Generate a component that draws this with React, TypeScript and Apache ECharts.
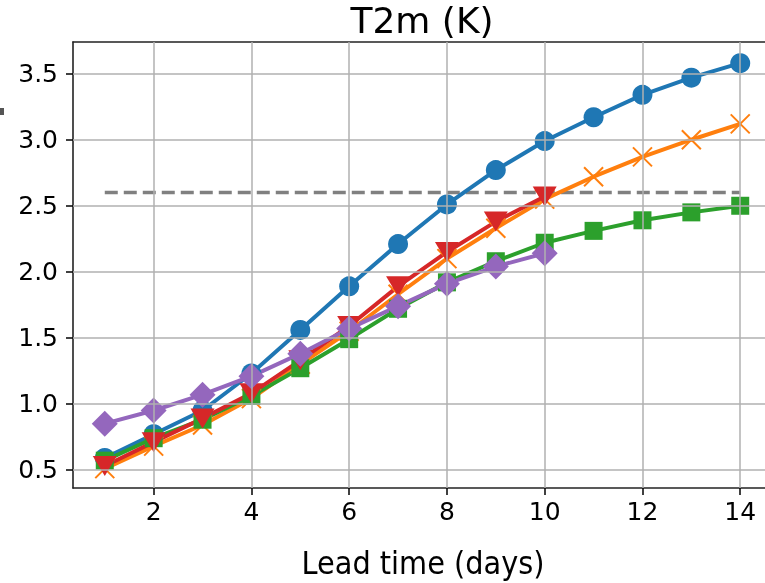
import React, { useEffect, useRef } from "react";
import * as echarts from "echarts";

const days = [1, 2, 3, 4, 5, 6, 7, 8, 9, 10, 11, 12, 13, 14];
const blueVals = [0.59, 0.77, 0.95, 1.23, 1.56, 1.89, 2.21, 2.51, 2.77, 2.99, 3.17, 3.34, 3.47, 3.58];
const orangeVals = [0.51, 0.68, 0.84, 1.04, 1.3, 1.55, 1.83, 2.1, 2.33, 2.55, 2.72, 2.87, 3.0, 3.12];
const greenVals = [0.57, 0.74, 0.88, 1.06, 1.27, 1.49, 1.72, 1.92, 2.08, 2.22, 2.31, 2.39, 2.45, 2.5];
const redVals = [0.53, 0.71, 0.89, 1.08, 1.33, 1.59, 1.89, 2.15, 2.38, 2.57];
const purpleVals = [0.85, 0.95, 1.07, 1.21, 1.38, 1.57, 1.74, 1.91, 2.04, 2.14];
const threshold = 2.6;
const xTicks = [2, 4, 6, 8, 10, 12, 14];
const yTicks = [0.5, 1.0, 1.5, 2.0, 2.5, 3.0, 3.5];
const titleText = "T2m (K)";
const xLabelText = "Lead time (days)";

const pairs = (vals: number[]) => vals.map((v, i) => [days[i], v]);

export default function App() {
  const ref = useRef<HTMLDivElement>(null);
  useEffect(() => {
    if (!ref.current) return;
    const chart = echarts.init(ref.current, null, { renderer: "svg" });
    const tickFont = { fontFamily: "DejaVu Sans", fontSize: 25, color: "#000" };
    const spine = { show: true, lineStyle: { color: "#222", width: 1.6 } };
    const lw = 4;
    const mk = (name: string, vals: number[], color: string, symbol: string, size: any, extra: any = {}) => ({
      name,
      type: "line",
      data: pairs(vals),
      symbol,
      symbolSize: size,
      showAllSymbol: true,
      clip: false,
      lineStyle: { color, width: lw },
      itemStyle: { color, borderColor: color, borderWidth: 0, opacity: 1 },
      ...extra,
    });
    const option: any = {
      animation: false,
      grid: { left: 73, top: 42, width: 699, height: 446, show: false },
      xAxis: [
        {
          type: "value",
          min: 0.35,
          max: 14.65,
          position: "bottom",
          axisLine: { ...spine, onZero: false },
          axisTick: { show: true, customValues: xTicks, length: 7, lineStyle: { color: "#000", width: 1.5 } },
          axisLabel: { customValues: xTicks, margin: 11, ...tickFont },
          splitLine: { show: false },
        },
        {
          type: "value",
          min: 0.35,
          max: 14.65,
          position: "top",
          axisLine: { ...spine, onZero: false },
          axisTick: { show: false },
          axisLabel: { show: false },
          splitLine: { show: false },
        },
      ],
      yAxis: {
        type: "value",
        min: 0.363,
        max: 3.74,
        axisLine: { ...spine, onZero: false },
        axisTick: { show: true, customValues: yTicks, length: 7, lineStyle: { color: "#000", width: 1.5 } },
        axisLabel: { customValues: yTicks, margin: 15, formatter: (v: number) => v.toFixed(1), ...tickFont },
        splitLine: { show: false },
      },
      series: [
        {
          type: "line",
          data: [],
          silent: true,
          markLine: {
            silent: true,
            symbol: "none",
            label: { show: false },
            lineStyle: { color: "#b0b0b0", width: 1.5, type: "solid" },
            data: [...xTicks.map((x) => ({ xAxis: x })), ...yTicks.map((y) => ({ yAxis: y }))],
          },
        },
        {
          type: "line",
          data: [[days[0], threshold], [days[days.length - 1], threshold]],
          symbol: "none",
          lineStyle: { color: "#808080", width: 3.5, type: [13, 6] },
        },
        mk("blue", blueVals, "#1f77b4", "circle", 20),
        mk("orange", orangeVals, "#ff7f0e", "path://M0,0L10,10M10,0L0,10", 19, {
          itemStyle: { color: "#ff7f0e", borderColor: "#ff7f0e", borderWidth: 2 },
        }),
        mk("green", greenVals, "#2ca02c", "rect", 18),
        mk("red", redVals, "#d62728", "triangle", [24, 20], { symbolRotate: 180 }),
        mk("purple", purpleVals, "#9467bd", "diamond", [26, 26]),
      ],
      graphic: [
        {
          type: "text",
          x: 422,
          y: 20,
          style: { text: titleText, fontFamily: "DejaVu Sans", fontSize: 36, fill: "#000", align: "center", verticalAlign: "middle" },
        },
        {
          type: "text",
          x: 423,
          y: 563,
          style: { text: xLabelText, fontFamily: "DejaVu Sans Condensed, DejaVu Sans", fontSize: 32, fill: "#000", align: "center", verticalAlign: "middle" },
        },
        { type: "rect", shape: { x: 0, y: 108, width: 4, height: 7 }, style: { fill: "#555" } },
      ],
    };
    chart.setOption(option);
    return () => chart.dispose();
  }, []);
  return (
    <div style={{ position: "fixed", left: 0, top: 0, width: 765, height: 583, overflow: "hidden" }}>
      <div ref={ref} style={{ position: "absolute", left: 0, top: 0, width: 900, height: 583 }} />
    </div>
  );
}
